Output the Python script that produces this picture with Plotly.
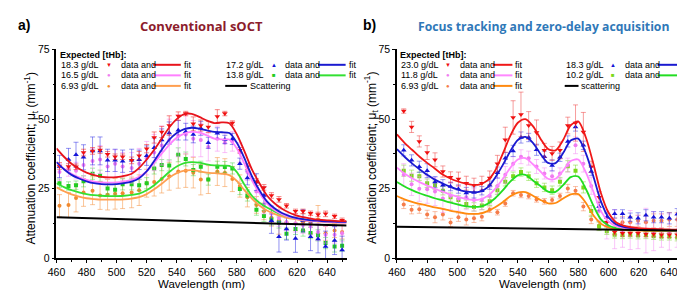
import plotly.graph_objects as go

# ---------------- data ----------------
# panel a: conventional sOCT
wl_a = [462, 468, 473, 478, 484, 489, 494, 499, 504, 510, 515, 520, 525, 530, 535, 541, 546, 551,
        556, 561, 567, 572, 577, 582, 587, 593, 598, 603, 608, 613, 619, 624, 629, 634, 639, 645, 650]
red_a = [33.2, 33.0, 32.9, 38.0, 38.6, 38.9, 37.4, 36.5, 36.5, 35.2, 36.9, 39.4, 43.4, 45.4, 47.7, 51.1, 52.0, 48.3,
         47.7, 47.2, 50.9, 52.0, 48.6, 38.8, 32.9, 27.4, 25.5, 22.6, 21.2, 18.9, 16.9, 16.9, 16.2, 15.8, 16.0, 15.1, 13.7]
red_a_err = [1.2, 1.0, 1.0, 1.2, 1.2, 1.2, 1.0, 1.0, 1.0, 1.2, 1.5, 1.5, 2.0, 2.0, 3.5, 1.5, 0.8, 2.5,
             2.0, 2.0, 2.5, 0.8, 0.8, 1.0, 1.0, 1.2, 1.0, 1.0, 1.0, 0.8, 0.8, 0.8, 0.8, 0.8, 1.0, 0.8, 0.8]
blue_a = [33.0, 35.5, 37.2, 36.3, 38.6, 38.6, 35.2, 35.2, 34.9, 35.2, 35.4, 36.9, 39.7, 42.5, 45.0, 46.0, 45.5, 44.5,
          46.7, 41.5, 44.9, 42.7, 42.9, 34.0, 28.9, 27.4, 22.6, 13.5, 7.8, 10.6, 7.2, 13.5, 7.8, 7.0, 4.3, 6.4, 3.0]
blue_a_err = [4.0, 4.0, 4.5, 4.5, 5.0, 5.0, 4.0, 4.0, 4.0, 4.0, 3.5, 3.5, 3.5, 4.0, 4.0, 3.5, 3.0, 3.0,
              2.5, 2.0, 2.0, 1.5, 2.0, 2.0, 2.5, 3.0, 3.0, 4.5, 5.5, 4.0, 5.0, 4.0, 5.0, 5.0, 5.5, 5.0, 5.0]
pink_a = [31.0, 32.5, 31.5, 33.5, 35.0, 35.5, 33.0, 34.0, 33.0, 32.5, 34.0, 36.0, 38.0, 40.5, 42.5, 44.0, 44.5, 43.0,
          42.5, 40.0, 43.0, 41.5, 42.0, 38.0, 31.0, 24.0, 19.0, 16.0, 14.5, 13.0, 12.5, 12.0, 11.5, 9.5, 8.5, 8.5, 9.0]
pink_a_err = [3.0, 3.0, 3.0, 4.0, 4.5, 5.0, 4.5, 5.0, 5.0, 5.5, 5.5, 6.0, 6.5, 7.0, 7.5, 7.5, 7.0, 6.5,
              6.0, 5.0, 4.5, 3.5, 3.5, 3.5, 3.0, 3.0, 3.0, 3.0, 3.0, 3.0, 3.0, 3.0, 3.0, 3.0, 3.0, 3.0, 3.0]
green_a = [27.0, 26.0, 26.3, 27.7, 30.4, 29.7, 25.1, 24.7, 26.6, 26.6, 26.3, 27.0, 32.3, 33.5, 33.4, 37.2, 35.7, 31.7,
           32.9, 28.3, 32.9, 32.8, 32.3, 24.9, 22.6, 17.5, 15.2, 14.0, 12.9, 8.9, 10.6, 10.0, 9.1, 8.3, 5.5, 4.3, 4.6]
green_a_err = [1.5, 1.5, 1.5, 2.0, 2.0, 2.0, 2.0, 2.0, 2.0, 2.0, 2.0, 2.0, 2.0, 2.0, 2.0, 2.5, 2.5, 2.0,
               2.0, 2.0, 2.0, 2.0, 2.0, 2.0, 2.0, 2.0, 2.0, 2.0, 2.0, 2.0, 2.0, 2.0, 2.0, 2.0, 2.0, 2.0, 2.0]
orange_a = [18.9, 19.2, 21.7, 23.7, 24.3, 22.6, 22.9, 23.2, 23.4, 23.7, 24.5, 27.0, 27.4, 28.5, 29.5, 31.2, 31.5, 30.8,
            28.3, 28.3, 31.2, 30.8, 28.5, 26.0, 22.0, 19.2, 16.9, 14.6, 13.7, 13.0, 12.5, 13.0, 12.5, 14.0, 9.0, 10.0, 9.5]
orange_a_err = [4.0, 4.5, 5.0, 5.0, 5.0, 5.0, 5.5, 5.5, 5.5, 5.5, 5.5, 5.0, 5.0, 5.0, 5.0, 6.0, 6.0, 5.5,
                5.5, 5.0, 5.0, 5.0, 4.5, 4.0, 3.5, 3.0, 3.0, 3.0, 5.0, 2.5, 2.5, 3.0, 3.5, 5.0, 2.5, 2.5, 2.5]

fit_wl = [460, 465, 470, 475, 480, 485, 490, 495, 500, 505, 510, 515, 520, 525, 530, 535, 540, 545, 550, 555,
          560, 565, 570, 575, 580, 585, 590, 595, 600, 605, 610, 615, 620, 625, 630, 635, 640, 645, 650, 653]
red_a_fit = [39.5, 36.5, 34.0, 32.2, 30.8, 29.9, 29.3, 29.1, 29.2, 29.6, 30.4, 32.5, 35.5, 39.0, 43.0, 47.0, 50.0, 51.8, 51.9, 50.8,
             49.5, 48.6, 48.8, 48.5, 44.5, 38.5, 32.0, 27.0, 22.6, 19.8, 17.8, 16.4, 15.4, 14.7, 14.2, 13.9, 13.7, 13.5, 13.4, 13.4]
blue_a_fit = [34.6, 32.0, 30.0, 28.7, 27.7, 27.0, 26.7, 26.6, 26.7, 27.0, 27.6, 28.8, 31.3, 35.0, 39.0, 42.6, 45.0, 46.4, 46.9, 46.6,
              46.0, 45.4, 45.3, 45.0, 41.5, 36.0, 29.5, 24.5, 20.5, 18.0, 16.3, 15.2, 14.5, 14.0, 13.7, 13.5, 13.3, 13.2, 13.1, 13.1]
pink_a_fit = [34.5, 32.2, 30.4, 29.1, 28.2, 27.6, 27.3, 27.2, 27.3, 27.6, 28.2, 29.3, 31.3, 34.3, 37.6, 40.8, 43.3, 44.8, 45.4, 45.2,
              44.2, 43.0, 42.7, 42.7, 39.5, 34.0, 28.0, 23.5, 19.8, 17.4, 15.9, 14.9, 14.2, 13.8, 13.5, 13.3, 13.1, 13.0, 12.9, 12.9]
green_a_fit = [27.0, 25.6, 24.5, 23.7, 23.1, 22.7, 22.5, 22.4, 22.4, 22.5, 22.8, 23.3, 24.5, 26.3, 28.6, 31.0, 33.0, 34.2, 34.6, 34.4,
               33.8, 33.4, 33.3, 33.2, 31.0, 26.5, 22.5, 20.0, 18.3, 16.9, 15.7, 14.9, 14.3, 13.9, 13.6, 13.4, 13.3, 13.2, 13.1, 13.1]
orange_a_fit = [25.5, 24.1, 23.0, 22.2, 21.6, 21.3, 21.1, 21.1, 21.1, 21.2, 21.5, 22.0, 23.1, 24.8, 26.8, 29.0, 30.6, 31.5, 31.7, 31.3,
                30.8, 30.6, 30.4, 29.9, 27.8, 24.5, 21.5, 19.0, 17.2, 16.0, 15.1, 14.4, 14.0, 13.6, 13.4, 13.2, 13.0, 12.9, 12.9, 12.9]
scat_wl = [460, 653]
scat_a = [14.8, 11.8]

# panel b: focus tracking and zero-delay acquisition
wl_b = [464.5, 469.7, 474.8, 480.0, 485.2, 490.4, 495.5, 500.7, 505.9, 511.0, 516.2, 521.4, 526.5, 531.7, 536.9, 542.1,
        547.2, 552.4, 557.6, 562.7, 567.9, 573.1, 578.2, 583.4, 588.6, 593.8, 598.9, 604.1, 609.3, 614.4, 619.6, 624.8,
        629.9, 635.1, 640.3, 645.5, 650.6]
red_b = [52.9, 47.2, 42.0, 38.0, 35.4, 31.2, 29.1, 28.5, 27.0, 26.3, 27.0, 28.9, 34.0, 42.6, 50.6, 51.7,
         47.7, 45.2, 38.8, 37.7, 38.8, 47.7, 48.6, 45.4, 32.9, 22.0, 13.0, 9.5, 9.0, 9.0, 9.0, 8.8,
         8.8, 8.5, 8.5, 8.5, 8.5]
red_b_err = [0.8, 2.0, 2.0, 2.5, 2.5, 2.0, 2.0, 2.5, 2.5, 2.5, 2.5, 2.5, 3.0, 4.5, 6.0, 8.0,
             5.0, 4.5, 2.5, 2.5, 3.0, 3.0, 6.5, 7.0, 2.0, 2.0, 1.5, 1.0, 1.0, 1.0, 1.0, 1.0,
             1.0, 1.0, 1.0, 1.0, 1.0]
blue_b = [38.8, 35.2, 32.9, 31.5, 27.4, 26.3, 25.8, 24.9, 23.5, 23.7, 24.3, 26.3, 30.8, 36.0, 38.6, 43.4,
          43.4, 39.0, 36.5, 33.4, 36.3, 42.0, 47.2, 40.6, 31.2, 18.6, 14.8, 16.0, 16.0, 14.8, 14.4, 15.5,
          14.8, 14.8, 14.4, 15.9, 16.3]
blue_b_err = [2.0, 2.0, 2.0, 2.5, 2.0, 2.0, 1.5, 1.5, 2.0, 2.0, 1.5, 1.5, 2.0, 2.0, 2.0, 2.0,
              1.5, 2.0, 2.0, 2.0, 1.5, 2.0, 1.5, 1.5, 1.5, 1.5, 1.5, 1.5, 1.5, 1.5, 2.0, 2.0,
              2.0, 2.0, 2.0, 2.0, 2.5]
pink_b = [30.0, 26.6, 25.0, 24.8, 24.0, 21.5, 22.5, 21.5, 22.0, 21.0, 21.0, 22.5, 26.0, 30.0, 34.0, 36.5,
          36.0, 33.0, 30.5, 29.5, 30.5, 33.5, 40.6, 34.0, 26.0, 17.0, 12.0, 10.5, 10.0, 10.2, 9.5, 10.0,
          9.8, 10.0, 9.5, 10.0, 11.0]
pink_b_err = [4.0, 4.0, 4.5, 5.0, 5.0, 5.0, 5.0, 4.5, 4.5, 4.0, 3.5, 3.0, 3.0, 3.0, 2.5, 2.5,
              2.5, 2.5, 2.0, 2.0, 2.0, 2.5, 3.0, 3.0, 3.0, 3.5, 5.0, 7.0, 6.0, 7.0, 6.0, 8.0,
              7.0, 6.0, 6.5, 6.0, 5.0]
green_b = [31.5, 29.7, 29.5, 27.0, 26.3, 24.3, 22.0, 21.0, 19.5, 18.5, 19.0, 20.5, 24.5, 27.5, 29.5, 31.0,
           29.5, 27.0, 25.5, 24.5, 27.5, 33.1, 31.5, 25.5, 17.0, 11.5, 9.8, 8.5, 8.3, 8.5, 8.2, 8.3,
           8.0, 7.8, 7.8, 7.5, 7.7]
green_b_err = [2.0, 2.0, 1.5, 1.5, 1.5, 1.5, 1.5, 1.5, 1.5, 1.5, 1.5, 1.5, 1.5, 1.5, 1.5, 1.5,
               1.5, 1.5, 1.5, 1.5, 1.5, 2.0, 2.0, 2.0, 2.0, 1.5, 1.2, 1.2, 1.2, 1.2, 1.2, 1.2,
               1.2, 1.2, 1.2, 1.2, 1.2]
orange_b = [19.4, 17.5, 17.7, 15.8, 14.8, 15.8, 12.9, 14.8, 14.0, 14.4, 15.0, 17.5, 16.6, 19.7, 23.4, 22.8,
            22.4, 21.2, 20.5, 21.0, 22.4, 25.1, 24.3, 18.6, 14.0, 11.8, 11.8, 12.5, 13.0, 13.0, 13.5, 13.0,
            13.5, 13.5, 14.0, 14.0, 14.2]
orange_b_err = [1.5, 1.5, 1.5, 1.5, 2.0, 2.0, 1.5, 1.5, 2.0, 1.5, 1.5, 1.0, 1.0, 1.0, 1.0, 1.0,
                1.0, 1.0, 1.0, 1.0, 1.0, 1.5, 1.5, 1.5, 1.5, 1.5, 1.5, 2.0, 2.0, 2.0, 2.0, 2.5,
                2.5, 2.5, 2.5, 2.5, 3.0]

red_b_fit = [44.5, 41.5, 39.0, 36.5, 34.3, 32.3, 30.2, 28.8, 27.7, 26.9, 26.4, 26.6, 28.0, 31.5, 37.5, 44.0, 48.7, 50.0, 47.5, 43.0,
             39.3, 38.8, 42.5, 47.8, 49.2, 43.5, 34.0, 23.5, 16.5, 13.0, 11.8, 11.2, 10.9, 10.7, 10.6, 10.5, 10.4, 10.3, 10.3, 10.3]
blue_b_fit = [39.2, 36.5, 34.1, 32.0, 30.0, 28.3, 27.0, 25.8, 24.8, 24.1, 23.8, 24.0, 25.5, 29.0, 33.5, 38.5, 42.5, 43.6, 41.5, 37.5,
              34.3, 34.2, 37.8, 42.3, 43.0, 37.8, 29.5, 20.5, 14.8, 12.3, 11.3, 10.9, 10.6, 10.5, 10.4, 10.3, 10.2, 10.2, 10.1, 10.1]
pink_b_fit = [32.6, 30.5, 28.8, 27.4, 26.2, 25.0, 24.0, 23.0, 22.2, 21.5, 21.0, 21.2, 22.4, 25.0, 28.5, 32.5, 35.5, 36.0, 33.8, 31.2,
              28.6, 28.6, 31.5, 35.0, 35.5, 31.0, 24.0, 17.0, 13.3, 11.6, 10.9, 10.6, 10.4, 10.3, 10.2, 10.1, 10.1, 10.0, 10.0, 10.0]
green_b_fit = [27.4, 25.8, 24.5, 23.4, 22.5, 21.6, 20.9, 20.1, 19.4, 18.8, 18.5, 18.6, 19.6, 21.6, 24.4, 27.6, 29.8, 30.0, 28.0, 26.0,
               24.0, 23.9, 26.3, 29.2, 29.4, 25.0, 19.0, 14.0, 11.8, 10.9, 10.5, 10.3, 10.2, 10.1, 10.1, 10.0, 10.0, 9.9, 9.9, 9.9]
orange_b_fit = [22.4, 21.2, 20.3, 19.6, 19.0, 18.3, 17.8, 17.2, 16.7, 16.2, 16.0, 16.1, 17.0, 18.4, 20.2, 22.3, 23.6, 23.8, 22.5, 21.0,
                19.8, 19.9, 21.5, 23.0, 23.1, 20.0, 15.5, 12.5, 11.1, 10.5, 10.2, 10.1, 10.0, 9.9, 9.9, 9.8, 9.8, 9.8, 9.8, 9.8]
scat_b = [11.4, 10.0]

legend_a = [("18.3 g/dL", "▼", "red"), ("16.5 g/dL", "●", "pink"), ("6.93 g/dL", "●", "orange"),
            ("17.2 g/dL", "▲", "blue"), ("13.8 g/dL", "■", "green")]
legend_b = [("23.0 g/dL", "▼", "red"), ("11.8 g/dL", "●", "pink"), ("6.93 g/dL", "●", "orange"),
            ("18.3 g/dL", "▲", "blue"), ("10.2 g/dL", "■", "green")]

# ---------------- styles ----------------
W, H = 685, 290
FONT = "Liberation Sans, Arial, sans-serif"

colors_a = {"red": ("#f01010", "#e8141c", "rgba(240,40,40,0.55)"),
            "blue": ("#1414d8", "#1a1ad0", "rgba(40,40,230,0.5)"),
            "pink": ("#f07cf0", "#ff80ff", "rgba(245,140,245,0.55)"),
            "green": ("#22cc22", "#33e033", "rgba(60,210,60,0.45)"),
            "orange": ("#f08a30", "#ff9f50", "rgba(245,150,70,0.55)")}
colors_b = {"red": ("#f01010", "#f01818", "rgba(240,60,60,0.5)"),
            "blue": ("#1414d8", "#1a1ad0", "rgba(60,60,230,0.5)"),
            "pink": ("#f07cf0", "#ff88ff", "rgba(245,140,245,0.5)"),
            "green": ("#7ad81a", "#22dd22", "rgba(120,220,40,0.5)"),
            "orange": ("#f57c4a", "#ff8a10", "rgba(245,130,80,0.5)")}
symbols = {"red": "triangle-down", "blue": "triangle-up", "pink": "circle",
           "green": "square", "orange": "circle"}
sizes = {"red": 5, "blue": 5, "pink": 4, "green": 4, "orange": 4}

fig = go.Figure()


def add_panel(xa, ya, wl, series, fits, scat, colors):
    for name, (vals, errs) in series.items():
        mc, lc, ec = colors[name]
        fig.add_trace(go.Scatter(
            x=wl, y=vals, mode="markers", xaxis=xa, yaxis=ya, showlegend=False,
            marker=dict(symbol=symbols[name], size=sizes[name], color=mc, line=dict(width=0)),
            error_y=dict(type="data", array=errs, color=ec, thickness=1, width=2.5),
        ))
    for name, vals in fits.items():
        mc, lc, ec = colors[name]
        fig.add_trace(go.Scatter(
            x=fit_wl, y=vals, mode="lines", xaxis=xa, yaxis=ya, showlegend=False,
            line=dict(color=lc, width=1.8, shape="spline", smoothing=0.8),
        ))
    fig.add_trace(go.Scatter(
        x=scat_wl, y=scat, mode="lines", xaxis=xa, yaxis=ya, showlegend=False,
        line=dict(color="black", width=2),
    ))


add_panel("x", "y", wl_a,
          {"orange": (orange_a, orange_a_err), "green": (green_a, green_a_err), "pink": (pink_a, pink_a_err),
           "blue": (blue_a, blue_a_err), "red": (red_a, red_a_err)},
          {"orange": orange_a_fit, "green": green_a_fit, "pink": pink_a_fit, "blue": blue_a_fit, "red": red_a_fit},
          scat_a, colors_a)
add_panel("x2", "y2", wl_b,
          {"orange": (orange_b, orange_b_err), "green": (green_b, green_b_err), "pink": (pink_b, pink_b_err),
           "blue": (blue_b, blue_b_err), "red": (red_b, red_b_err)},
          {"orange": orange_b_fit, "green": green_b_fit, "pink": pink_b_fit, "blue": blue_b_fit, "red": red_b_fit},
          scat_b, colors_b)

axis_common = dict(showline=True, linecolor="black", linewidth=1.5, showgrid=False, zeroline=False,
                   ticks="outside", ticklen=3, tickwidth=1, tickcolor="black",
                   tickfont=dict(family=FONT, size=10.5, color="black"))
xcommon = dict(axis_common, tickmode="linear", tick0=460, dtick=20,
               minor=dict(dtick=10, ticks="outside", ticklen=2, tickcolor="black"))
ycommon = dict(axis_common, range=[0, 75], tickmode="linear", tick0=0, dtick=25,
               minor=dict(dtick=12.5, ticks="outside", ticklen=2, tickcolor="black"))

ybot, ytop = 1 - 255 / H, 1 - 37 / H
fig.update_layout(
    width=W, height=H, margin=dict(l=0, r=0, t=0, b=0),
    paper_bgcolor="white", plot_bgcolor="white",
    xaxis=dict(xcommon, range=[460, 653], domain=[40 / W, 334 / W], anchor="y"),
    yaxis=dict(ycommon, domain=[ybot, ytop], anchor="x"),
    xaxis2=dict(xcommon, range=[460, 654], domain=[385 / W, 682 / W], anchor="y2"),
    yaxis2=dict(ycommon, domain=[ybot, ytop], anchor="x2"),
)


def px_ann(x, y, text, size=9, color="black", bold=False, anchor="left", family=FONT, angle=0):
    fig.add_annotation(x=x / W, y=1 - y / H, xref="paper", yref="paper", text=f"<b>{text}</b>" if bold else text,
                       showarrow=False, xanchor=anchor, yanchor="middle", borderpad=0, textangle=angle,
                       font=dict(family=family, size=size, color=color))


def px_line(x0, x1, y, color):
    fig.add_shape(type="line", xref="paper", yref="paper", x0=x0 / W, x1=x1 / W, y0=1 - y / H, y1=1 - y / H,
                  line=dict(color=color, width=2))


# titles
px_ann(0, 11, "a)", size=14, bold=True)
px_ann(350, 11, "b)", size=14, bold=True)
px_ann(187, 13, "Conventional sOCT", size=13, color="#8c1c2c", bold=True, anchor="center", family="Open Sans, sans-serif")
px_ann(534, 13, "Focus tracking and zero-delay acquisition", size=12.2, color="#2f78b8", bold=True, anchor="center",
       family="Open Sans, sans-serif")

# axis titles
ytitle = "Attenuation coefficient; μ<sub>t</sub> (mm<sup>-1</sup>)"
px_ann(187, 282, "Wavelength (nm)", size=11.5, anchor="center")
px_ann(533, 282, "Wavelength (nm)", size=11.5, anchor="center")
px_ann(14, 150, ytitle, size=12, anchor="center", angle=-90)
px_ann(359, 150, ytitle, size=12, anchor="center", angle=-90)


def draw_legend(x0, col2, entries, colors, scat_label, fit_off, fit_dx):
    px_ann(x0 - 1, 43, "Expected [tHb]:", size=9, bold=True)
    rows = [53, 64, 75]
    for i, (label, glyph, cname) in enumerate(entries):
        mc, lc, ec = colors[cname]
        if i < 3:
            bx, ry, dx = x0, rows[i], 95
        else:
            bx, ry, dx = col2, rows[i - 3], fit_dx
        px_ann(bx, ry, label, size=9)
        px_ann(bx + 49, ry, glyph, size=6, color=mc, anchor="center")
        px_ann(bx + 60, ry, "data and", size=9)
        px_line(bx + 94, bx + 93 + fit_off, ry, lc)
        px_ann(bx + dx + fit_off, ry, "fit", size=9)
    px_line(col2, col2 + fit_off - 7, rows[2], "black")
    px_ann(col2 + fit_off - 5, rows[2], scat_label, size=9)


draw_legend(44, 211, legend_a, colors_a, "Scattering", 29, 95)
draw_legend(388, 555, legend_b, colors_b, "scattering", 21, 94)

fig.write_html("out.html")
